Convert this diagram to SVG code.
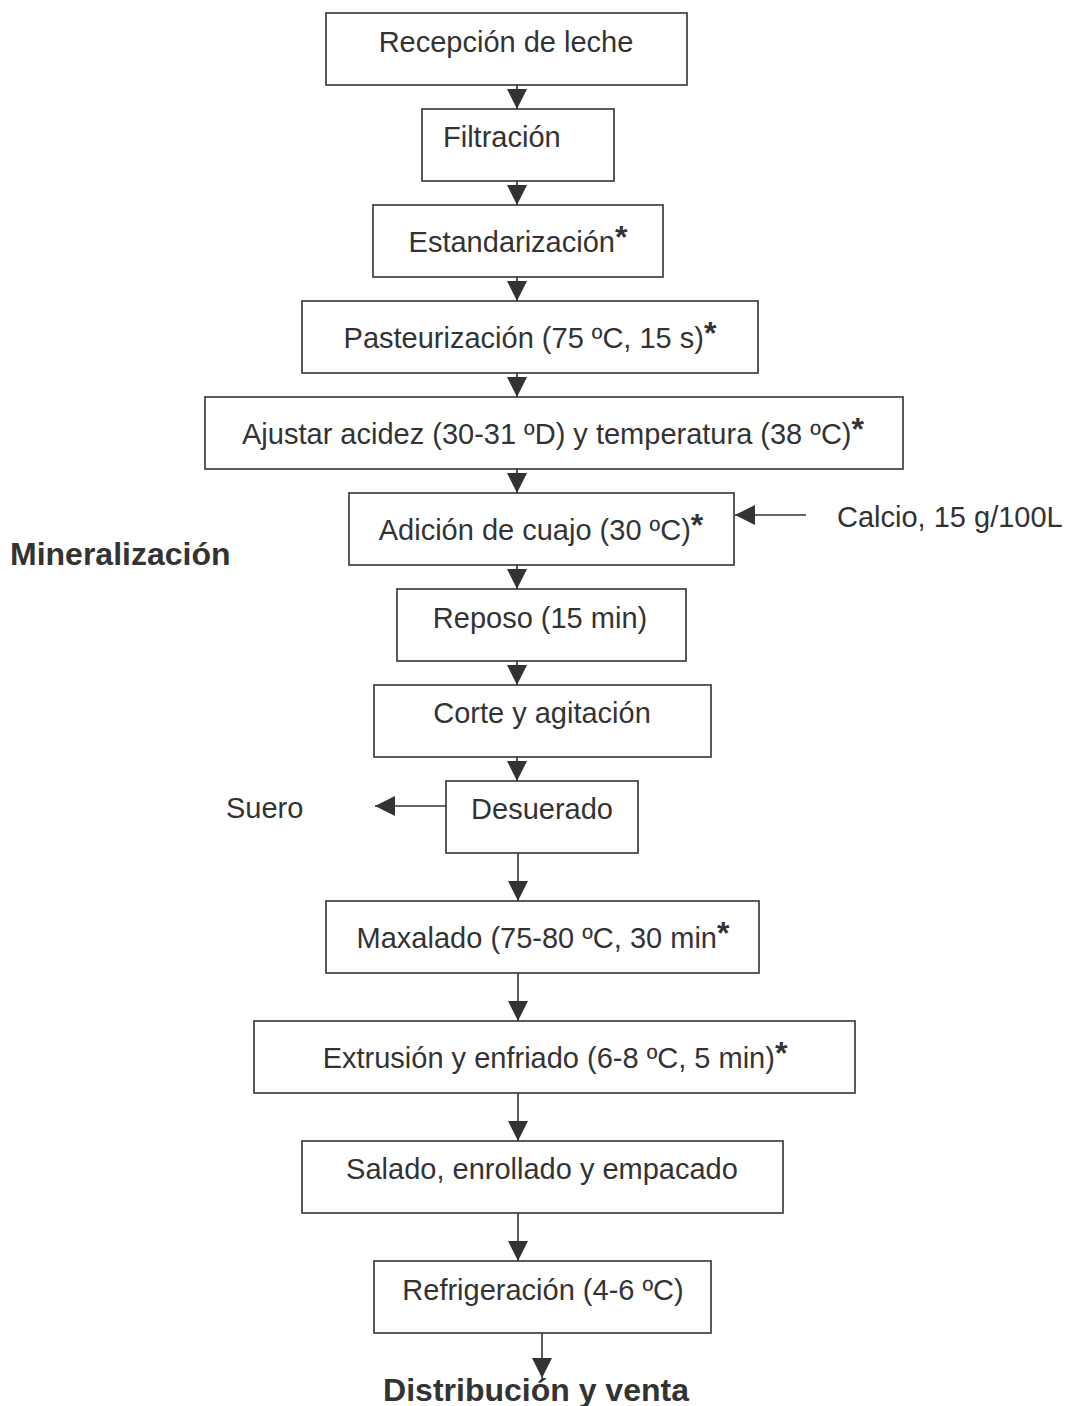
<svg xmlns="http://www.w3.org/2000/svg" width="1066" height="1406" viewBox="0 0 1066 1406">
<style>
.box{fill:#fff;stroke:#333;stroke-width:1.6}
.t{font-family:"Liberation Sans",Arial,sans-serif;font-size:29px;fill:#333}
.c{text-anchor:middle}
.b{font-family:"Liberation Sans",Arial,sans-serif;font-size:32px;font-weight:bold;fill:#333}
.ast{font-weight:bold;font-size:32px}
.conn line{stroke:#333;stroke-width:1.6;marker-end:url(#ah)}
</style>
<defs>
<marker id="ah" viewBox="0 0 20 20" markerWidth="20" markerHeight="20" refX="20" refY="10" orient="auto" markerUnits="userSpaceOnUse">
<path d="M0,0 L20,10 L0,20 z" fill="#333"/>
</marker>
</defs>
<rect width="1066" height="1406" fill="#fff"/>
<g id="connectors" class="conn">
<line x1="517" y1="85" x2="517" y2="109"/>
<line x1="517" y1="181" x2="517" y2="205"/>
<line x1="517" y1="277" x2="517" y2="301"/>
<line x1="517" y1="373" x2="517" y2="397"/>
<line x1="517" y1="469" x2="517" y2="493"/>
<line x1="517" y1="565" x2="517" y2="589"/>
<line x1="517" y1="661" x2="517" y2="685"/>
<line x1="517" y1="757" x2="517" y2="781"/>
<line x1="518" y1="853" x2="518" y2="901"/>
<line x1="518" y1="973" x2="518" y2="1021"/>
<line x1="518" y1="1093" x2="518" y2="1141"/>
<line x1="518" y1="1213" x2="518" y2="1261"/>
<line x1="542" y1="1333" x2="542" y2="1378"/>
<line x1="806" y1="515" x2="735" y2="515"/>
<line x1="446" y1="806" x2="375" y2="806"/>
</g>
<g id="n1"><rect class="box" x="326" y="13" width="361" height="72"/><text class="t c" x="506" y="52">Recepción de leche</text></g>
<g id="n2"><rect class="box" x="422" y="109" width="192" height="72"/><text class="t" x="443" y="147">Filtración</text></g>
<g id="n3"><rect class="box" x="373" y="205" width="290" height="72"/><text class="t c" x="518" y="252">Estandarización<tspan class="ast" dy="-4">*</tspan></text></g>
<g id="n4"><rect class="box" x="302" y="301" width="456" height="72"/><text class="t c" x="530" y="348">Pasteurización (75 ºC, 15 s)<tspan class="ast" dy="-4">*</tspan></text></g>
<g id="n5"><rect class="box" x="205" y="397" width="698" height="72"/><text class="t c" x="553" y="444">Ajustar acidez (30-31 ºD) y temperatura (38 ºC)<tspan class="ast" dy="-4">*</tspan></text></g>
<g id="n6"><rect class="box" x="349" y="493" width="385" height="72"/><text class="t c" x="541" y="540">Adición de cuajo (30 ºC)<tspan class="ast" dy="-4">*</tspan></text></g>
<g id="n7"><rect class="box" x="397" y="589" width="289" height="72"/><text class="t c" x="540" y="628">Reposo (15 min)</text></g>
<g id="n8"><rect class="box" x="374" y="685" width="337" height="72"/><text class="t c" x="542" y="723">Corte y agitación</text></g>
<g id="n9"><rect class="box" x="446" y="781" width="192" height="72"/><text class="t c" x="542" y="819">Desuerado</text></g>
<g id="n10"><rect class="box" x="326" y="901" width="433" height="72"/><text class="t c" x="543" y="948">Maxalado (75-80 ºC, 30 min<tspan class="ast" dy="-4">*</tspan></text></g>
<g id="n11"><rect class="box" x="254" y="1021" width="601" height="72"/><text class="t c" x="555" y="1068">Extrusión y enfriado (6-8 ºC, 5 min)<tspan class="ast" dy="-4">*</tspan></text></g>
<g id="n12"><rect class="box" x="302" y="1141" width="481" height="72"/><text class="t c" x="542" y="1179">Salado, enrollado y empacado</text></g>
<g id="n13"><rect class="box" x="374" y="1261" width="337" height="72"/><text class="t c" x="543" y="1300">Refrigeración (4-6 ºC)</text></g>
<g id="calcio"><text class="t" x="837" y="527">Calcio, 15 g/100L</text></g>
<g id="suero"><text class="t" x="226" y="818">Suero</text></g>
<g id="mineralizacion"><text class="b" x="10" y="565">Mineralización</text></g>
<g id="distribucion"><text class="b" x="536" y="1401" text-anchor="middle">Distribución y venta</text></g>
</svg>
